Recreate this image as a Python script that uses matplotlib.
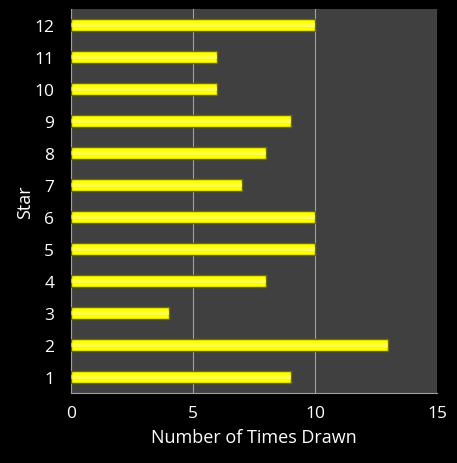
import matplotlib
matplotlib.use("Agg")
import matplotlib.pyplot as plt

stars = ["1", "2", "3", "4", "5", "6", "7", "8", "9", "10", "11", "12"]
times_drawn = [9, 13, 4, 8, 10, 10, 7, 8, 9, 6, 6, 10]
x_ticks = [0, 5, 10, 15]

plt.rcParams['font.family'] = ['Open Sans', 'DejaVu Sans']

fig = plt.figure(figsize=(4.57, 4.64), dpi=100, facecolor='black')
ax = fig.add_axes([71/457, 1 - 394/464, (437 - 71)/457, (394 - 10)/464])
ax.set_facecolor('#404040')

pos = list(range(1, len(stars) + 1))
ax.barh(pos, times_drawn, height=0.38, color='#FFFF00', edgecolor='#6B6B00', linewidth=1.0, zorder=3)
ax.barh(pos, times_drawn, height=0.12, color='#FFFF70', linewidth=0, zorder=4, alpha=0.6)

ax.set_xlim(0, 15)
ax.set_ylim(0.5, 12.5)
ax.set_xticks(x_ticks)
ax.set_xticklabels([str(t) for t in x_ticks])
ax.set_yticks(pos)
ax.set_yticklabels(stars)
ax.xaxis.grid(True, color='#A0A0A0', linewidth=0.8, zorder=1)
ax.set_axisbelow(True)

for s in ['top', 'right']:
    ax.spines[s].set_visible(False)
for s in ['left', 'bottom']:
    ax.spines[s].set_color('#A0A0A0')
    ax.spines[s].set_linewidth(0.8)

ax.tick_params(axis='both', colors='white', labelsize=12.5, length=0)
ax.tick_params(axis='x', pad=9)
ax.tick_params(axis='y', pad=12)
ax.set_xlabel('Number of Times Drawn', color='white', fontsize=13, labelpad=5)
ax.set_ylabel('Star', color='white', fontsize=13, labelpad=0)

fig.savefig('out.png', dpi=100, facecolor='black')
